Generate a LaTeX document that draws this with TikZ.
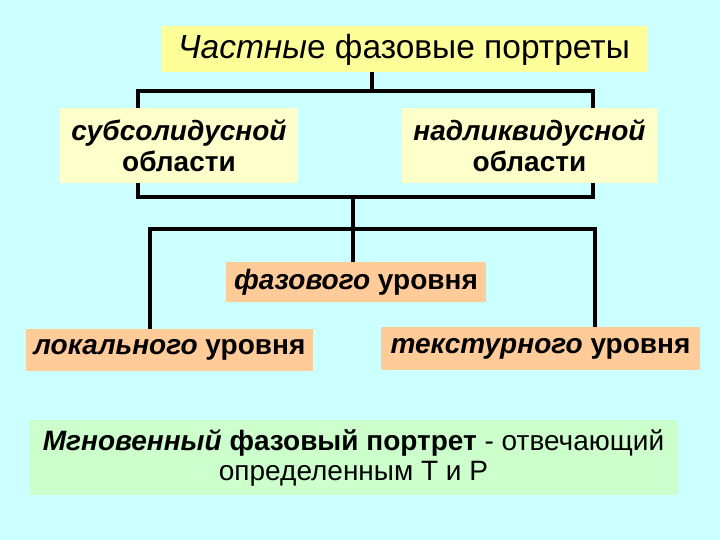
\documentclass[tikz,border=0pt]{standalone}
\usepackage{fontspec}
\setmainfont{Liberation Sans}
\definecolor{bgc}{HTML}{CCFFFF}
\definecolor{topc}{HTML}{FFFF99}
\definecolor{midc}{HTML}{FFFFCC}
\definecolor{orc}{HTML}{FFCC99}
\definecolor{grc}{HTML}{CCFFCC}
\begin{document}
\begin{tikzpicture}[x=1pt,y=1pt,
  box/.style={inner sep=0pt, outer sep=0pt, align=center, text=black},
  conn/.style={line width=3.8pt, line join=miter, black}]
\fill[bgc] (0,0) rectangle (720,-540);
\useasboundingbox (0,0) rectangle (720,-540);
% boxes
\node[box, fill=topc, minimum width=486, minimum height=46, font=\fontsize{33.5}{38}\selectfont] (top) at (404,-49.5)
  {\textit{Частны}е фазовые портреты};
\node[box, fill=midc, minimum width=238, minimum height=75, font=\fontsize{28}{31}\selectfont\bfseries] (sub) at (179,-145.5)
  {\textit{субсолидусной}\\области};
\node[box, fill=midc, minimum width=255, minimum height=75, font=\fontsize{28}{31}\selectfont\bfseries] (nad) at (529.5,-145.5)
  {\textit{надликвидусной}\\области};
\node[box, fill=orc, minimum width=260, minimum height=40, font=\fontsize{28}{30}\selectfont\bfseries] (faz) at (356,-282)
  {\textit{фазового} уровня};
\node[box, fill=orc, minimum width=287, minimum height=42, font=\fontsize{28}{30}\selectfont\bfseries] (lok) at (169.5,-350)
  {\textit{локального} уровня};
\node[box, fill=orc, minimum width=319, minimum height=43, font=\fontsize{28}{30}\selectfont\bfseries] (tex) at (540.5,-348.5)
  {\textit{текстурного} уровня};
\node[box, fill=grc, minimum width=649, minimum height=75, font=\fontsize{28}{30}\selectfont] (mgn) at (353.5,-457.5)
  {\textbf{\textit{Мгновенный} фазовый портрет} - отвечающий\\определенным Т и Р};
% junction coordinates
\coordinate (b1) at (372,-91);
\coordinate (b1l) at (138,-91);
\coordinate (b1r) at (593,-91);
\coordinate (b2l) at (138,-197);
\coordinate (b2r) at (593,-197);
\coordinate (b2m) at (353,-197);
\coordinate (b3l) at (150,-229);
\coordinate (b3r) at (595,-229);
% connectors
\draw[conn] (top.south -| b1) -- (b1);
\draw[conn] (sub.north -| b1l) -- (b1l) -- (b1r) -- (nad.north -| b1r);
\draw[conn] (sub.south -| b2l) -- (b2l) -- (b2r) -- (nad.south -| b2r);
\draw[conn] (b2m) -- (faz.north -| b2m);
\draw[conn] (lok.north -| b3l) -- (b3l) -- (b3r) -- (tex.north -| b3r);
\end{tikzpicture}
\end{document}
